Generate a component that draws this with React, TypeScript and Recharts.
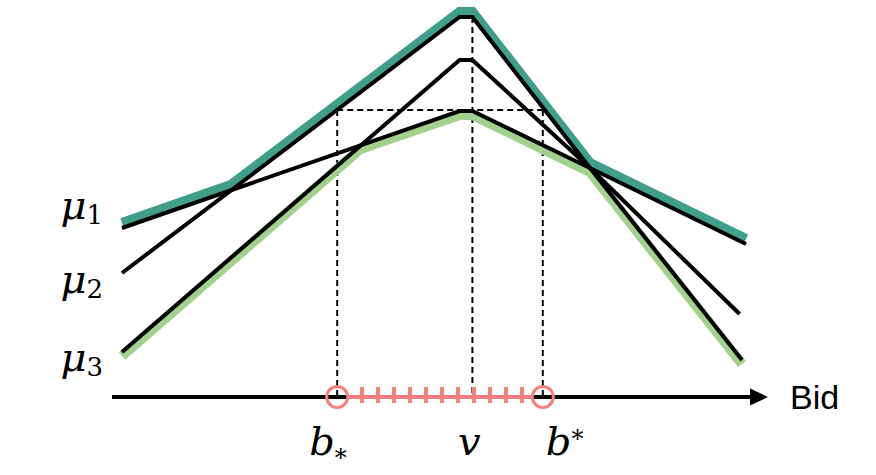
import { Line, LineChart, ReferenceDot, ReferenceLine, XAxis, YAxis } from "recharts";

// bid axis: one unit = one step of the red bid grid; u = utility
const mu1 = [
  { bid: 0, u: 16.9 },
  { bid: 21.1, u: 28.6 },
  { bid: 21.9, u: 28.6 },
  { bid: 29.25, u: 22.9 },
  { bid: 39, u: 15.3 },
];
const mu2 = [
  { bid: 0, u: 12.4 },
  { bid: 21.1, u: 38.0 },
  { bid: 21.9, u: 38.0 },
  { bid: 29.25, u: 22.9 },
  { bid: 38.75, u: 3.7 },
];
const mu3 = [
  { bid: 0, u: 4.5 },
  { bid: 21.1, u: 33.7 },
  { bid: 21.9, u: 33.7 },
  { bid: 29.25, u: 22.9 },
  { bid: 38.6, u: 8.3 },
];
// upper / lower envelopes as drawn (slightly offset from the black lines)
const upperEnvelope = [
  { bid: 0, u: 17.4 },
  { bid: 6.8, u: 21.2 },
  { bid: 21.1, u: 38.5 },
  { bid: 21.9, u: 38.5 },
  { bid: 29.25, u: 23.4 },
  { bid: 39, u: 15.8 },
];
const lowerEnvelope = [
  { bid: 0, u: 4.1 },
  { bid: 14.9, u: 24.8 },
  { bid: 21.1, u: 28.2 },
  { bid: 21.9, u: 28.2 },
  { bid: 29.25, u: 22.5 },
  { bid: 38.75, u: 3.3 },
];

const bLower = 13.45;
const value = 21.9;
const bUpper = 26.3;
const guideLevel = 28.7;
const bidGrid = [15, 16, 17, 18, 19, 20, 21, 22, 23, 24, 25];

const muLabels = [
  { sub: "1", u: 18.8 },
  { sub: "2", u: 11.4 },
  { sub: "3", u: 3.6 },
];
const bidMarks = [
  { kind: "lower", bid: bLower },
  { kind: "value", bid: value },
  { kind: "upper", bid: bUpper },
];

const X_MIN = -0.625;
const X_MAX = 40.375;
const AXIS_END = 39.5;

const SERIF = "'DejaVu Serif', 'Liberation Serif', serif";
const SANS = "'Liberation Sans', Arial, sans-serif";
const TEAL = "#409E8A";
const GREEN = "#A1D18D";
const SALMON = "#F3807A";

function MuTick({ x, y, payload }: any) {
  const label = muLabels.find((m) => m.u === payload.value);
  return (
    <text x={x - 9} y={y + 10} textAnchor="end" fontFamily={SERIF} fontSize={40} fill="#000">
      <tspan fontStyle="italic">μ</tspan>
      <tspan fontSize={26} dy={5}>
        {label?.sub}
      </tspan>
    </text>
  );
}

function BidTick({ x, y, payload }: any) {
  const mark = bidMarks.find((m) => m.bid === payload.value);
  const base = y + 58;
  if (mark?.kind === "value") {
    return (
      <text x={x - 3} y={base} textAnchor="middle" fontFamily={SERIF} fontSize={40} fontStyle="italic" fill="#000">
        v
      </text>
    );
  }
  const lower = mark?.kind === "lower";
  return (
    <text x={lower ? x - 28 : x + 3} y={base} fontFamily={SERIF} fontSize={40} fill="#000">
      <tspan fontStyle="italic">b</tspan>
      <tspan fontSize={24} dy={lower ? 11 : -8}>
        *
      </tspan>
    </text>
  );
}

function ArrowHead({ cx, cy }: any) {
  return <polygon points={`${cx - 18},${cy - 8.5} ${cx},${cy} ${cx - 18},${cy + 8.5}`} fill="#000" />;
}

export default function App() {
  return (
    <div style={{ position: "absolute", left: 0, top: 0, background: "#fff" }}>
      <LineChart width={876} height={475} margin={{ top: 0, right: 108, bottom: 0, left: 0 }}>
        <XAxis
          dataKey="bid"
          type="number"
          domain={[X_MIN, X_MAX]}
          allowDataOverflow
          ticks={bidMarks.map((m) => m.bid)}
          interval={0}
          tick={<BidTick />}
          tickSize={0}
          tickMargin={0}
          axisLine={false}
          tickLine={false}
          height={78}
        />
        <YAxis
          type="number"
          domain={[0, 39.7]}
          allowDataOverflow
          ticks={muLabels.map((m) => m.u)}
          interval={0}
          tick={<MuTick />}
          tickSize={0}
          tickMargin={0}
          axisLine={false}
          tickLine={false}
          width={112}
        />

        <ReferenceLine
          segment={[{ x: value, y: 38 }, { x: value, y: 0 }]}
          stroke="#000"
          strokeWidth={2}
          strokeDasharray="6 4"
          ifOverflow="visible"
        />
        <ReferenceLine
          segment={[{ x: bLower, y: guideLevel }, { x: bUpper, y: guideLevel }]}
          stroke="#000"
          strokeWidth={2}
          strokeDasharray="6 4"
          ifOverflow="visible"
        />
        <ReferenceLine
          segment={[{ x: bLower, y: guideLevel }, { x: bLower, y: 0 }]}
          stroke="#000"
          strokeWidth={2}
          strokeDasharray="6 4"
          ifOverflow="visible"
        />
        <ReferenceLine
          segment={[{ x: bUpper, y: guideLevel }, { x: bUpper, y: 0 }]}
          stroke="#000"
          strokeWidth={2}
          strokeDasharray="6 4"
          ifOverflow="visible"
        />

        <Line data={upperEnvelope} dataKey="u" stroke={TEAL} strokeWidth={10} dot={false} activeDot={false} isAnimationActive={false} />
        <Line data={lowerEnvelope} dataKey="u" stroke={GREEN} strokeWidth={10} dot={false} activeDot={false} isAnimationActive={false} />
        <Line data={mu1} dataKey="u" stroke="#000" strokeWidth={4} dot={false} activeDot={false} isAnimationActive={false} />
        <Line data={mu2} dataKey="u" stroke="#000" strokeWidth={4} dot={false} activeDot={false} isAnimationActive={false} />
        <Line data={mu3} dataKey="u" stroke="#000" strokeWidth={4} dot={false} activeDot={false} isAnimationActive={false} />

        <ReferenceLine
          segment={[{ x: X_MIN, y: 0 }, { x: AXIS_END, y: 0 }]}
          stroke="#000"
          strokeWidth={4}
          ifOverflow="visible"
        />
        <ReferenceLine
          segment={[{ x: bLower + 0.66, y: 0 }, { x: bUpper - 0.66, y: 0 }]}
          stroke={SALMON}
          strokeWidth={4}
          ifOverflow="visible"
        />
        {bidGrid.map((b) => (
          <ReferenceLine
            key={b}
            segment={[{ x: b, y: -0.6 }, { x: b, y: 1.0 }]}
            stroke={SALMON}
            strokeWidth={4}
            ifOverflow="visible"
          />
        ))}
        <ReferenceDot x={bLower} y={0} r={10.5} fill="none" stroke={SALMON} strokeWidth={3} ifOverflow="visible" />
        <ReferenceDot x={bUpper} y={0} r={10.5} fill="none" stroke={SALMON} strokeWidth={3} ifOverflow="visible" />
        <ReferenceDot
          x={X_MAX}
          y={0}
          r={0}
          shape={<ArrowHead />}
          ifOverflow="visible"
          label={{ value: "Bid", position: "right", offset: 22, fontSize: 34, fontFamily: SANS, fill: "#000" }}
        />
      </LineChart>
    </div>
  );
}
